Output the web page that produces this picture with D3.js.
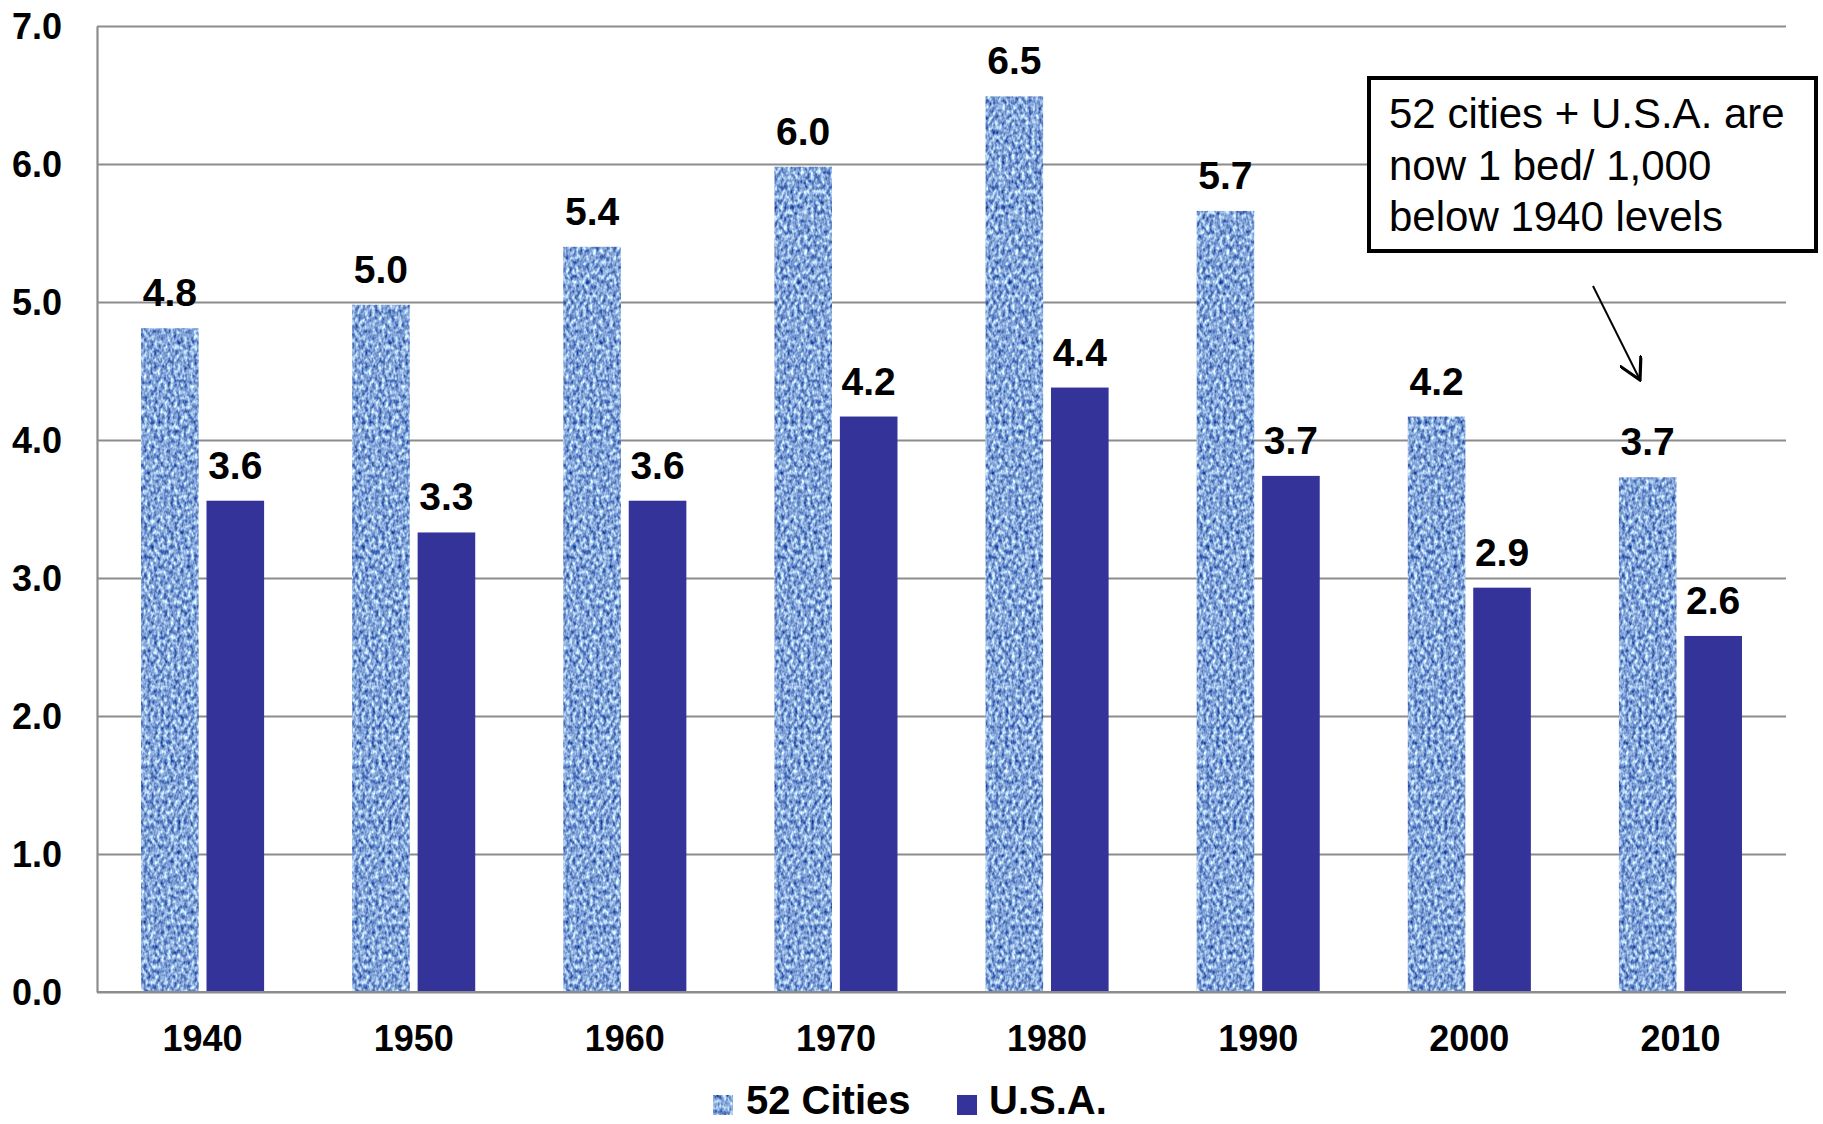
<!DOCTYPE html>
<html>
<head>
<meta charset="utf-8">
<script src="https://cdn.jsdelivr.net/npm/d3@7/dist/d3.min.js"></script>
<style>
  html, body { margin: 0; padding: 0; background: #ffffff; }
  svg { display: block; font-family: Arial, "Liberation Sans", sans-serif; }
</style>
</head>
<body>
<svg id="chart" width="1823" height="1124"></svg>
<script>
// ---- data ----
const years = ["1940", "1950", "1960", "1970", "1980", "1990", "2000", "2010"];
const seriesNames = ["52 Cities", "U.S.A."];
const cities = [4.81, 4.98, 5.40, 5.98, 6.49, 5.66, 4.17, 3.73];
const usa = [3.56, 3.33, 3.56, 4.17, 4.38, 3.74, 2.93, 2.58];
const yTicks = [0, 1, 2, 3, 4, 5, 6, 7];
const noteLines = ["52 cities + U.S.A. are", "now 1 bed/ 1,000", "below 1940 levels"];

const seriesValues = [cities, usa];
const svg = d3.select("#chart");

// ---- layout ----
const plot = { left: 97, right: 1786, top: 26, bottom: 992 };

const x0 = d3.scaleBand().domain(years).range([plot.left, plot.right])
  .paddingInner(0.417).paddingOuter(0.2085);
const x1 = d3.scaleBand().domain(seriesNames).range([0, x0.bandwidth()])
  .paddingInner(0.12).paddingOuter(0);
const y = d3.scaleLinear().domain([0, 7]).range([plot.bottom, plot.top]);
const fmt = d3.format(".1f");

// ---- texture for 52 Cities ----
const defs = svg.append("defs");
const filt = defs.append("filter").attr("id", "denim")
  .attr("x", 0).attr("y", 0).attr("width", 1).attr("height", 1)
  .attr("filterUnits", "objectBoundingBox")
  .attr("color-interpolation-filters", "sRGB");
filt.append("feTurbulence").attr("type", "fractalNoise")
  .attr("baseFrequency", "0.3 0.2").attr("numOctaves", 2).attr("seed", 5)
  .attr("result", "noise");
filt.append("feColorMatrix").attr("in", "noise").attr("type", "matrix")
  .attr("values",
    "0 0 0 1.3 -0.13  " +
    "0 0 0 1.2 0.05  " +
    "0 0 0 0.7 0.5  " +
    "0 0 0 0 1")
  .attr("result", "col");
filt.append("feComposite").attr("in", "col").attr("in2", "SourceGraphic")
  .attr("operator", "in");

// ---- gridlines & y axis ----
const yAxis = d3.axisLeft(y).tickValues(yTicks).tickFormat(fmt)
  .tickSizeInner(-(plot.right - plot.left)).tickSizeOuter(0).tickPadding(35);
const gy = svg.append("g").attr("transform", `translate(${plot.left},0)`).call(yAxis);
gy.select(".domain").attr("stroke", "#8c8c8c").attr("stroke-width", 2.2);
gy.selectAll(".tick line").attr("stroke", "#8c8c8c").attr("stroke-width", 2.2);
gy.selectAll(".tick text")
  .attr("dy", "12.5px")
  .attr("font-size", "36px").attr("font-weight", "bold").attr("fill", "#000")
  .attr("font-family", "Arial, 'Liberation Sans', sans-serif");

// ---- x axis ----
const xAxis = d3.axisBottom(x0).tickSize(0).tickPadding(33);
const gx = svg.append("g").attr("transform", `translate(0,${plot.bottom})`).call(xAxis);
gx.select(".domain").remove();
gx.selectAll(".tick text")
  .attr("font-size", "36px").attr("font-weight", "bold").attr("fill", "#000")
  .attr("font-family", "Arial, 'Liberation Sans', sans-serif");

// ---- bars ----
const groups = svg.append("g").selectAll("g").data(years).join("g")
  .attr("transform", d => `translate(${x0(d)},0)`);

const barData = (yr, i) => seriesNames.map((s, k) => ({ s, k, v: seriesValues[k][i] }));

groups.each(function (yr, i) {
  const g = d3.select(this);
  const data = barData(yr, i);
  g.selectAll("rect").data(data).join("rect")
    .attr("x", d => x1(d.s))
    .attr("y", d => y(d.v))
    .attr("width", x1.bandwidth())
    .attr("height", d => y(0) - y(d.v))
    .attr("fill", d => d.k === 0 ? "#7193d0" : "#333399")
    .attr("filter", d => d.k === 0 ? "url(#denim)" : null);
  g.selectAll("text").data(data).join("text")
    .attr("x", d => x1(d.s) + x1.bandwidth() / 2)
    .attr("y", d => y(d.v) - 22)
    .attr("text-anchor", "middle")
    .attr("font-size", "39px").attr("font-weight", "bold").attr("fill", "#000")
    .text(d => fmt(d.v));
});

// bottom axis line
svg.append("line")
  .attr("x1", plot.left).attr("x2", plot.right)
  .attr("y1", y(0)).attr("y2", y(0))
  .attr("stroke", "#8c8c8c").attr("stroke-width", 2.2);

// ---- annotation ----
svg.append("rect").attr("x", 1369).attr("y", 78).attr("width", 447).attr("height", 173)
  .attr("fill", "#fff").attr("stroke", "#000").attr("stroke-width", 4);
svg.append("g").selectAll("text").data(noteLines).join("text")
  .attr("x", 1389).attr("y", (d, i) => 128 + i * 51.5)
  .attr("font-size", "42px").attr("fill", "#000")
  .text(d => d);

defs.append("marker").attr("id", "arrow").attr("viewBox", "0 0 12 12")
  .attr("refX", 11).attr("refY", 6).attr("markerWidth", 24).attr("markerHeight", 24)
  .attr("markerUnits", "userSpaceOnUse").attr("orient", "auto")
  .append("path").attr("d", "M0,0 L11,6 L0,12").attr("fill", "none")
  .attr("stroke", "#000").attr("stroke-width", 1.6);
svg.append("line").attr("x1", 1593).attr("y1", 286).attr("x2", 1640).attr("y2", 380)
  .attr("stroke", "#000").attr("stroke-width", 2).attr("marker-end", "url(#arrow)");

// ---- legend ----
const legend = svg.append("g");
const legendItems = [
  { name: seriesNames[0], sx: 713, tx: 746 },
  { name: seriesNames[1], sx: 957, tx: 989 }
];
legend.selectAll("rect").data(legendItems).join("rect")
  .attr("x", d => d.sx).attr("y", 1095).attr("width", 20).attr("height", 20)
  .attr("fill", (d, i) => i === 0 ? "#7193d0" : "#333399")
  .attr("filter", (d, i) => i === 0 ? "url(#denim)" : null);
legend.selectAll("text").data(legendItems).join("text")
  .attr("x", d => d.tx).attr("y", 1114)
  .attr("font-size", "40px").attr("font-weight", "bold").attr("fill", "#000")
  .text(d => d.name);
</script>
</body>
</html>
